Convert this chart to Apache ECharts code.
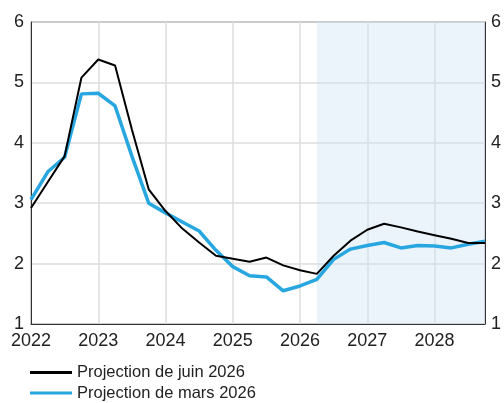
<!DOCTYPE html>
<html>
<head>
<meta charset="utf-8">
<script src="https://cdn.jsdelivr.net/npm/echarts@6/dist/echarts.min.js"></script>
<style>
  html, body { margin: 0; padding: 0; background: #fff; }
  #chart { width: 504px; height: 403px; }
</style>
</head>
<body>
<div id="chart"></div>
<script>
// trimestres 2022T1 .. 2028T4 (position sur l'axe en années)
const startYear = 2022
const quarters = Array.from({length: 28}, (_, i) => startYear + i / 4)
const yearTicks = [2022, 2023, 2024, 2025, 2026, 2027, 2028]

const juin2026 = [2.92, 3.35, 3.78, 5.08, 5.38, 5.28, 4.22, 3.23, 2.87, 2.58, 2.35, 2.13,
  2.08, 2.03, 2.10, 1.97, 1.89, 1.83, 2.13, 2.38, 2.56, 2.66, 2.60, 2.53, 2.47, 2.41, 2.34, 2.34]
const mars2026 = [3.06, 3.52, 3.76, 4.81, 4.82, 4.61, 3.78, 3.00, 2.84, 2.69, 2.54, 2.22,
  1.95, 1.80, 1.78, 1.55, 1.63, 1.74, 2.07, 2.24, 2.30, 2.35, 2.26, 2.30, 2.29, 2.26, 2.32, 2.37]

const projStart = 2026.25 // début de la zone de projection
const font = 'Liberation Sans, Arial, sans-serif'

const chart = echarts.init(document.getElementById('chart'))
chart.setOption({
  animation: false,
  backgroundColor: '#fff',
  grid: {
    left: 31, right: 18, top: 22, bottom: 79,
    show: true, borderColor: '#333', borderWidth: 1
  },
  legend: {
    orient: 'vertical',
    left: 30, top: 363, padding: 0,
    icon: 'rect',
    itemWidth: 42, itemHeight: 3, itemGap: 1.6,
    textStyle: {fontFamily: font, fontSize: 16.5, color: '#222', lineHeight: 19},
    data: ['Projection de juin 2026', 'Projection de mars 2026']
  },
  xAxis: {
    type: 'value',
    min: 2022, max: 2028.75, interval: 1,
    axisLine: {show: true, lineStyle: {color: '#333'}},
    axisTick: {show: false},
    splitLine: {show: true, lineStyle: {color: '#dcdcdc', width: 1.5}},
    axisLabel: {
      fontFamily: font, fontSize: 18, color: '#222', margin: 8,
      showMaxLabel: false,
      formatter: v => yearTicks.includes(v) ? String(v) : ''
    }
  },
  yAxis: [{
    type: 'value', min: 1, max: 6, interval: 1,
    axisLine: {show: true, lineStyle: {color: '#333'}},
    axisTick: {show: false},
    splitLine: {show: true, lineStyle: {color: '#dcdcdc', width: 1.5}},
    axisLabel: {fontFamily: font, fontSize: 18, color: '#222', margin: 7}
  }, {
    type: 'value', min: 1, max: 6, interval: 1, position: 'right',
    axisLine: {show: true, lineStyle: {color: '#333'}},
    axisTick: {show: false},
    splitLine: {show: false},
    axisLabel: {fontFamily: font, fontSize: 18, color: '#222', margin: 6}
  }],
  series: [{
    name: 'Projection de mars 2026',
    type: 'line',
    symbol: 'none',
    z: 2,
    lineStyle: {color: '#27a6e0', width: 3.5},
    itemStyle: {color: '#27a6e0'},
    data: quarters.map((q, i) => [q, mars2026[i]]),
    markArea: {
      silent: true,
      z: 0,
      itemStyle: {color: 'rgba(205, 225, 245, 0.4)'},
      data: [[{xAxis: projStart}, {xAxis: 2028.75}]]
    }
  }, {
    name: 'Projection de juin 2026',
    type: 'line',
    symbol: 'none',
    z: 3,
    lineStyle: {color: '#000', width: 2},
    itemStyle: {color: '#000'},
    data: quarters.map((q, i) => [q, juin2026[i]])
  }]
})
</script>
</body>
</html>
